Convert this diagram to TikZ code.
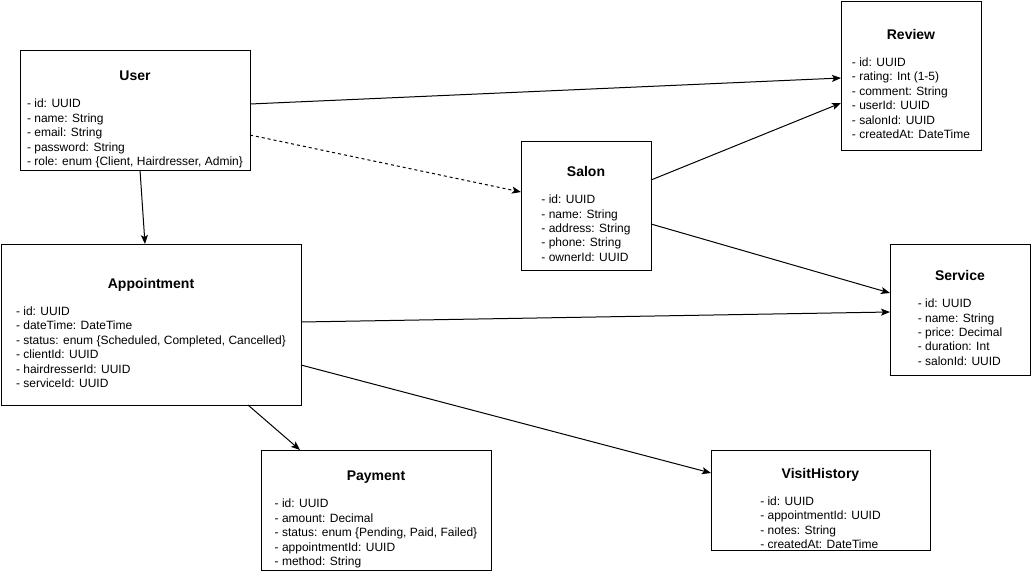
\documentclass[tikz,border=0pt]{standalone}
\usepackage{fontspec}
\setmainfont{Liberation Sans}
\usetikzlibrary{positioning,arrows.meta}

\newcommand{\entitytitle}[1]{{\fontsize{14}{16.8}\selectfont\bfseries #1}}
\newcommand{\entityfields}[2]{\entitytitle{#1}\\[12.6pt]\begin{tabular}[t]{@{}l@{}}#2\end{tabular}}

\begin{document}
\begin{tikzpicture}[->,>={Stealth[length=9pt,width=7pt,inset=2pt]},line width=1pt,x=1pt,y=1pt,
  entity/.style={draw,inner sep=0pt,outer sep=0pt},
  fields/.style={inner sep=0pt,align=center,font=\fontsize{12}{14.4}\selectfont,yshift=-10.5pt}]

  \useasboundingbox (0,0) rectangle (1031,-571);

  \node[entity,minimum width=230pt,minimum height=120pt,anchor=north west] (user) at (20,-50) {};
  \node[entity,minimum width=300pt,minimum height=161pt] (appointment) [below=74pt of user,xshift=16pt] {};
  \node[entity,minimum width=130pt,minimum height=129pt] (salon) [below right=91pt and 271pt of user.north east] {};
  \node[entity,minimum width=140pt,minimum height=149pt] (review) [right=190pt of salon.north east,anchor=north west,yshift=140pt] {};
  \node[entity,minimum width=140pt,minimum height=131pt] (service) [below right=0pt and 589pt of appointment.north east] {};
  \node[entity,minimum width=230pt,minimum height=120pt] (payment) [below right=45pt and 260pt of appointment.south west] {};
  \node[entity,minimum width=219pt,minimum height=100pt] (visit) [below right=0pt and 220pt of payment.north east] {};

  % class texts
  \node[fields] (user fields) at (user) {\entityfields{User}{- id: UUID\\- name: String\\- email: String\\- password: String\\- role: enum \{Client, Hairdresser, Admin\}}};
  \node[fields] (appointment fields) at (appointment) {\entityfields{Appointment}{- id: UUID\\- dateTime: DateTime\\- status: enum \{Scheduled, Completed, Cancelled\}\\- clientId: UUID\\- hairdresserId: UUID\\- serviceId: UUID}};
  \node[fields] (salon fields) at (salon) {\entityfields{Salon}{- id: UUID\\- name: String\\- address: String\\- phone: String\\- ownerId: UUID}};
  \node[fields] (review fields) at (review) {\entityfields{Review}{- id: UUID\\- rating: Int (1-5)\\- comment: String\\- userId: UUID\\- salonId: UUID\\- createdAt: DateTime}};
  \node[fields] (service fields) at (service) {\entityfields{Service}{- id: UUID\\- name: String\\- price: Decimal\\- duration: Int\\- salonId: UUID}};
  \node[fields] (payment fields) at (payment) {\entityfields{Payment}{- id: UUID\\- amount: Decimal\\- status: enum \{Pending, Paid, Failed\}\\- appointmentId: UUID\\- method: String}};
  \node[fields] (visit fields) at (visit) {\entityfields{VisitHistory}{- id: UUID\\- appointmentId: UUID\\- notes: String\\- createdAt: DateTime}};

  \path
    ([yshift=6pt]user.east) edge ([yshift=-2.5pt]review.west)
    ([yshift=-25pt]user.east) edge[dash pattern=on 3pt off 3pt] ([yshift=13.5pt]salon.west)
    ([xshift=5pt]user.south) edge ([xshift=-6pt]appointment.north)
    ([yshift=25.5pt]salon.east) edge ([yshift=-27.5pt]review.west)
    ([yshift=-18.5pt]salon.east) edge ([yshift=16.5pt]service.west)
    ([yshift=2.5pt]appointment.east) edge ([yshift=-2.5pt]service.west)
    ([xshift=97pt]appointment.south) edge ([xshift=-76pt]payment.north)
    ([yshift=-40.5pt]appointment.east) edge ([yshift=27pt]visit.west);
\end{tikzpicture}
\end{document}
